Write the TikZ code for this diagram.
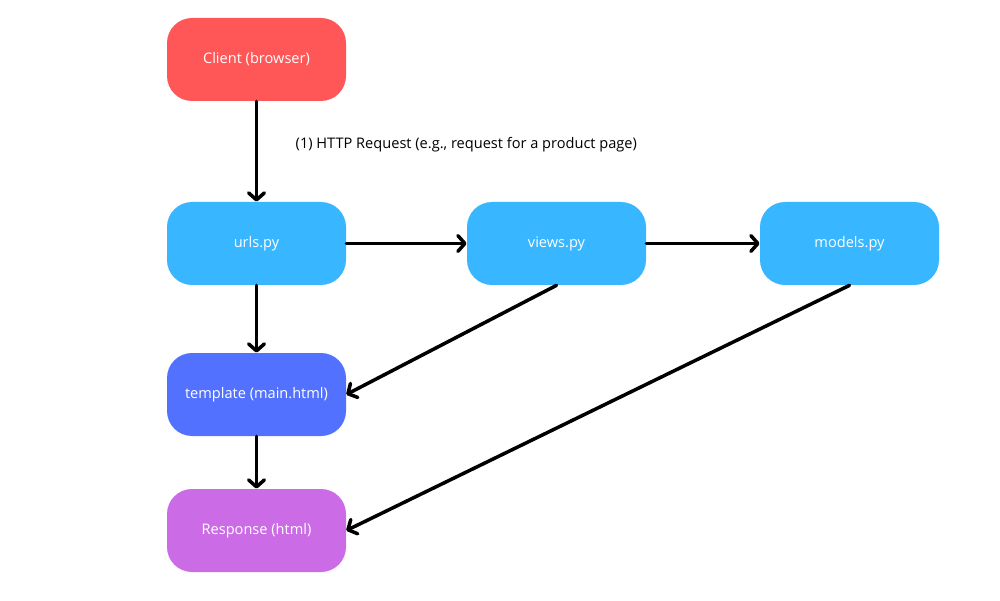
\documentclass[tikz,border=0pt]{standalone}
\usepackage{fontspec}
\setmainfont{Open Sans}
\usetikzlibrary{arrows.meta}

\definecolor{clientred}{HTML}{FF5757}
\definecolor{pyblue}{HTML}{38B6FF}
\definecolor{tplblue}{HTML}{5271FF}
\definecolor{resppurple}{HTML}{CB6CE6}

\begin{document}
\begin{tikzpicture}[>={Straight Barb[length=4pt,width=9pt,line cap=round,line join=round]},
	box/.style={rounded corners=0.5cm,minimum width=3.58cm,minimum height=1.66cm,
		text=white,font=\fontsize{8.3}{10}\selectfont,inner sep=0pt},
	flow/.style={->,line width=2pt,line cap=round}]

\useasboundingbox (0,0) rectangle (20,12);

\node[box,fill=clientred] (client) at (5.13,10.81) {Client (browser)};
\node[box,fill=pyblue] (urls) at (5.13,7.13) {urls.py};
\node[box,fill=pyblue] (views) at (11.13,7.13) {views.py};
\node[box,fill=pyblue] (models) at (16.99,7.13) {models.py};
\node[box,fill=tplblue] (template) at (5.13,4.11) {template (main.html)};
\node[box,fill=resppurple] (response) at (5.13,1.39) {Response (html)};

\draw[flow] (client) -- (urls);
\node[anchor=west,font=\fontsize{8.3}{10}\selectfont] (req) at (5.79,9.10)
	{(1) HTTP Request (e.g., request for a product page)};

\draw[flow] (urls) -- (views);
\draw[flow] (views) -- (models);
\draw[flow] (urls) -- (template);
\draw[flow] (views.south) -- (template.east);
\draw[flow] (template) -- (response);
\draw[flow] (models.south) -- (response.east);

\end{tikzpicture}
\end{document}
